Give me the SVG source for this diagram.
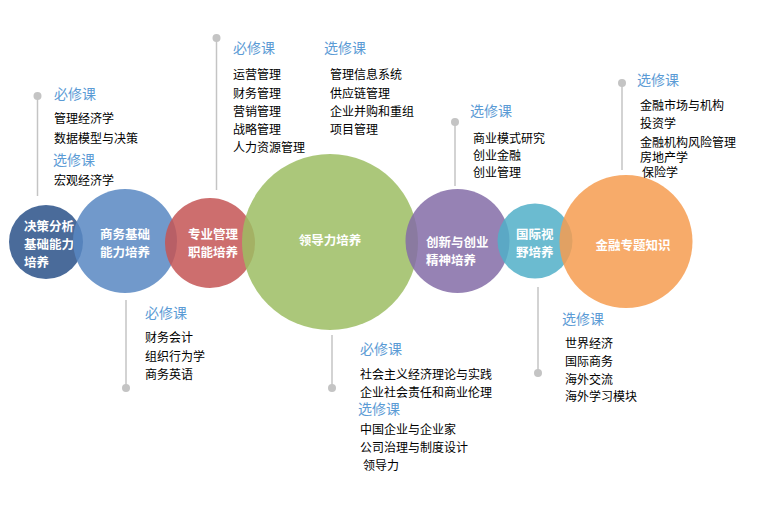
<svg xmlns="http://www.w3.org/2000/svg" width="758" height="523" viewBox="0 0 758 523">
<style>
.c{fill-opacity:0.85}
.lbl{font-family:"Noto Sans CJK SC","Liberation Sans",sans-serif;font-size:12.5px;font-weight:bold;fill:#fff}
.h{font-family:"Noto Sans CJK SC","Liberation Sans",sans-serif;font-size:14px;fill:#5B9BD5}
.t{font-family:"Noto Sans CJK SC","Liberation Sans",sans-serif;font-size:12px;fill:#000}
.ln{stroke:#C4C4C4;stroke-width:1.5;fill:none}
.dot{fill:#C4C4C4}
</style>
<rect width="758" height="523" fill="#fff"/>
<g id="connectors">
<line class="ln" x1="37.5" y1="96" x2="37.5" y2="196"/><circle class="dot" cx="37.5" cy="96" r="4"/>
<line class="ln" x1="216.5" y1="38" x2="216.5" y2="190"/><circle class="dot" cx="216.5" cy="38" r="4"/>
<line class="ln" x1="126" y1="300" x2="126" y2="388"/><circle class="dot" cx="126" cy="388" r="4"/>
<line class="ln" x1="332" y1="335" x2="332" y2="388"/><circle class="dot" cx="332" cy="388" r="4"/>
<line class="ln" x1="455" y1="122" x2="455" y2="186"/><circle class="dot" cx="455" cy="122" r="4"/>
<line class="ln" x1="538" y1="287" x2="538" y2="373"/><circle class="dot" cx="538" cy="373" r="4"/>
<line class="ln" x1="622" y1="83" x2="622" y2="170"/><circle class="dot" cx="622" cy="83" r="4"/>
</g>
<g id="n1"><circle class="c" cx="46" cy="242" r="37" fill="#2A5188"/>
<text class="lbl" x="24" y="231">决策分析</text><text class="lbl" x="24" y="249">基础能力</text><text class="lbl" x="24" y="267">培养</text></g>
<g id="n2"><circle class="c" cx="125" cy="241" r="52" fill="#5887C2"/>
<text class="lbl" x="125" y="239" text-anchor="middle">商务基础</text><text class="lbl" x="125" y="257" text-anchor="middle">能力培养</text></g>
<g id="n3"><circle class="c" cx="210" cy="243" r="45" fill="#C45555"/>
<text class="lbl" x="213" y="239" text-anchor="middle">专业管理</text><text class="lbl" x="213" y="257" text-anchor="middle">职能培养</text></g>
<g id="n4"><circle class="c" cx="330" cy="242" r="88" fill="#9CBD63"/>
<text class="lbl" x="330" y="245" text-anchor="middle">领导力培养</text></g>
<g id="n5"><circle class="c" cx="457.5" cy="241" r="52" fill="#846CA7"/>
<text class="lbl" x="426" y="247">创新与创业</text><text class="lbl" x="426" y="265">精神培养</text></g>
<g id="n6"><circle class="c" cx="535" cy="241" r="37.5" fill="#51AFC8"/>
<text class="lbl" x="516" y="239">国际视</text><text class="lbl" x="516" y="257">野培养</text></g>
<g id="n7"><circle class="c" cx="626" cy="241.5" r="66.5" fill="#F69C50"/>
<text class="lbl" x="633" y="250" text-anchor="middle">金融专题知识</text></g>
<g id="txt1">
<text class="h" x="54" y="99">必修课</text>
<text class="t" x="54" y="123">管理经济学</text>
<text class="t" x="54" y="143">数据模型与决策</text>
<text class="h" x="53" y="165">选修课</text>
<text class="t" x="54" y="185">宏观经济学</text>
</g>
<g id="txt2">
<text class="h" x="233" y="53">必修课</text>
<text class="t" x="233" y="79">运营管理</text>
<text class="t" x="233" y="97.5">财务管理</text>
<text class="t" x="233" y="116">营销管理</text>
<text class="t" x="233" y="134">战略管理</text>
<text class="t" x="233" y="152">人力资源管理</text>
<text class="h" x="324" y="53">选修课</text>
<text class="t" x="330" y="79">管理信息系统</text>
<text class="t" x="330" y="97.5">供应链管理</text>
<text class="t" x="330" y="116">企业并购和重组</text>
<text class="t" x="330" y="134">项目管理</text>
</g>
<g id="txt3">
<text class="h" x="145" y="318">必修课</text>
<text class="t" x="145" y="342">财务会计</text>
<text class="t" x="145" y="361">组织行为学</text>
<text class="t" x="145" y="379">商务英语</text>
</g>
<g id="txt4">
<text class="h" x="360" y="354">必修课</text>
<text class="t" x="360" y="379">社会主义经济理论与实践</text>
<text class="t" x="360" y="397">企业社会责任和商业伦理</text>
<text class="h" x="358" y="414">选修课</text>
<text class="t" x="360" y="434">中国企业与企业家</text>
<text class="t" x="360" y="452">公司治理与制度设计</text>
<text class="t" x="363" y="470">领导力</text>
</g>
<g id="txt5">
<text class="h" x="470" y="116">选修课</text>
<text class="t" x="473" y="143">商业模式研究</text>
<text class="t" x="473" y="160">创业金融</text>
<text class="t" x="473" y="177">创业管理</text>
</g>
<g id="txt6">
<text class="h" x="562" y="324">选修课</text>
<text class="t" x="565" y="348">世界经济</text>
<text class="t" x="565" y="366">国际商务</text>
<text class="t" x="565" y="384">海外交流</text>
<text class="t" x="565" y="401">海外学习模块</text>
</g>
<g id="txt7">
<text class="h" x="637" y="85">选修课</text>
<text class="t" x="640" y="110">金融市场与机构</text>
<text class="t" x="640" y="128">投资学</text>
<text class="t" x="640" y="147">金融机构风险管理</text>
<text class="t" x="640" y="162">房地产学</text>
<text class="t" x="642" y="177">保险学</text>
</g>
</svg>
